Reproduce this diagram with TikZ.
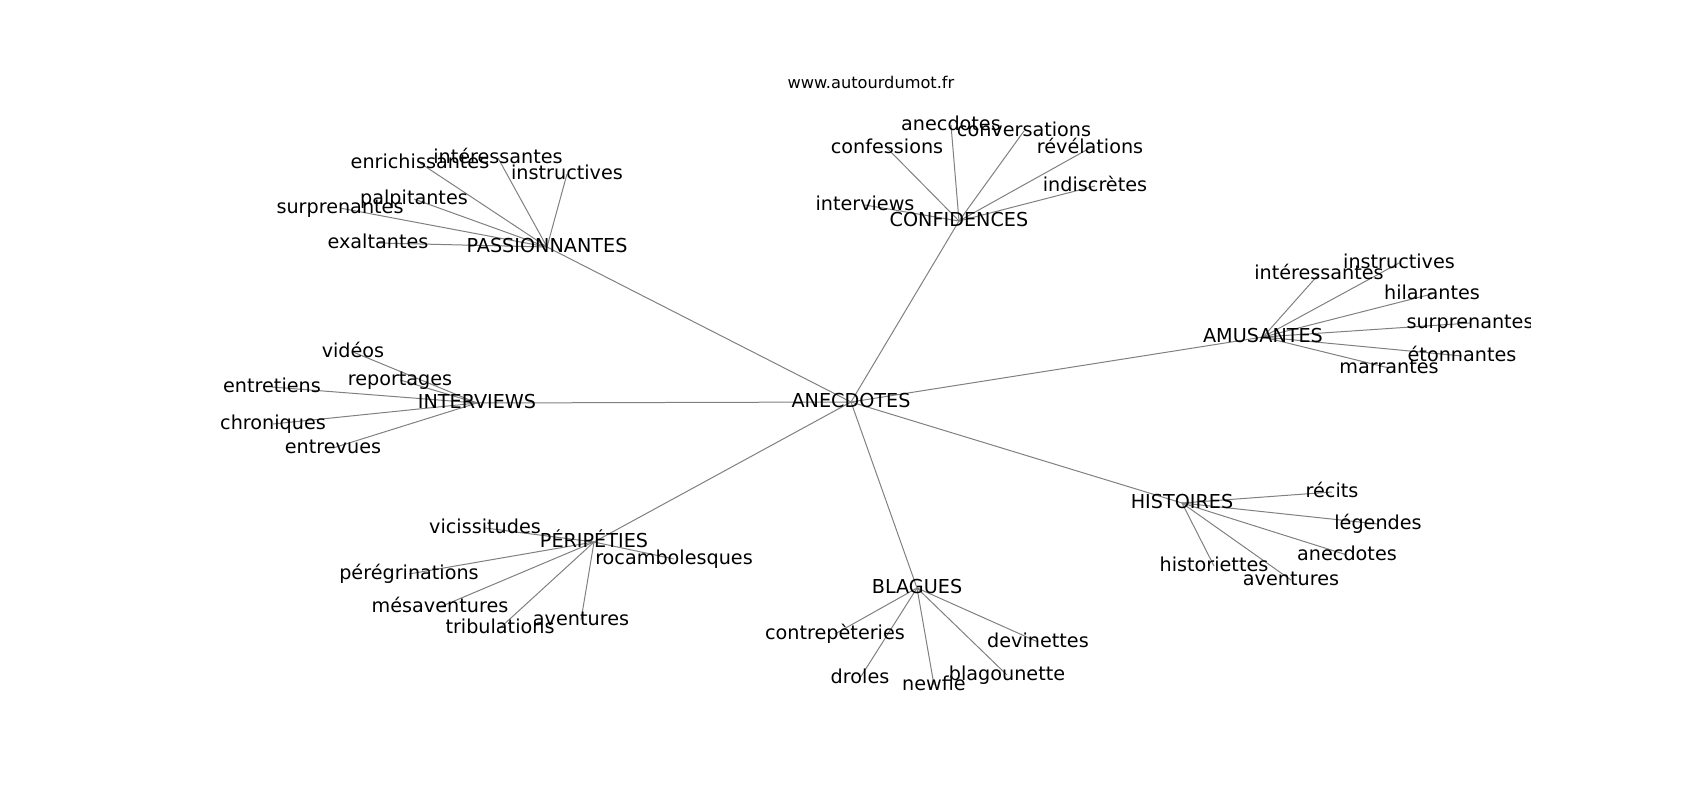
\documentclass[tikz,border=0pt]{standalone}
\usepackage{fontspec}
\setmainfont{DejaVu Sans}
\usetikzlibrary{backgrounds}
\tikzset{
  lbl/.style={font=\fontsize{19.2}{23}\selectfont, inner sep=0pt, text height=14.6pt, text depth=4.5pt, anchor=center},
  ttl/.style={font=\fontsize{16.2}{19}\selectfont, inner sep=0pt, text height=12.3pt, text depth=3.8pt, anchor=center},
  edge/.style={draw=black!50, line width=1pt}
}
\begin{document}
\begin{tikzpicture}[x=1pt,y=-1pt]
\useasboundingbox (0,0) rectangle (1700,800);
\node[ttl] (title) at (871,84) {www.autourdumot.fr};
\begin{scope}
\clip (212.5,96) rectangle (1530,712);
\node[lbl] (A) at (851,402) {ANECDOTES};
% PASSIONNANTES
\node[lbl] (P) at (547,247) {PASSIONNANTES};
\node[lbl] (p1) at (420,163) {enrichissantes};
\node[lbl] (p2) at (498,158) {intéressantes};
\node[lbl] (p3) at (567,174) {instructives};
\node[lbl] (p4) at (414,199) {palpitantes};
\node[lbl] (p5) at (340,208) {surprenantes};
\node[lbl] (p6) at (378,243) {exaltantes};
% CONFIDENCES
\node[lbl] (C) at (959,221) {CONFIDENCES};
\node[lbl] (c1) at (951,125) {anecdotes};
\node[lbl] (c2) at (1024,131) {conversations};
\node[lbl] (c3) at (887,148) {confessions};
\node[lbl] (c4) at (1090,148) {révélations};
\node[lbl] (c5) at (1095,186) {indiscrètes};
\node[lbl] (c6) at (865,205) {interviews};
% AMUSANTES
\node[lbl] (M) at (1263,337) {AMUSANTES};
\node[lbl] (m1) at (1319,274) {intéressantes};
\node[lbl] (m2) at (1399,263) {instructives};
\node[lbl] (m3) at (1432,294) {hilarantes};
\node[lbl] (m4) at (1470,323) {surprenantes};
\node[lbl] (m5) at (1462,356) {étonnantes};
\node[lbl] (m6) at (1389,368) {marrantes};
% INTERVIEWS
\node[lbl] (I) at (477,403) {INTERVIEWS};
\node[lbl] (i1) at (353,352) {vidéos};
\node[lbl] (i2) at (400,380) {reportages};
\node[lbl] (i3) at (272,387) {entretiens};
\node[lbl] (i4) at (273,424) {chroniques};
\node[lbl] (i5) at (333,448) {entrevues};
% PERIPETIES
\node[lbl] (R) at (594,542) {PÉRIPÉTIES};
\node[lbl] (r1) at (485,528) {vicissitudes};
\node[lbl] (r2) at (674,559) {rocambolesques};
\node[lbl] (r3) at (409,574) {pérégrinations};
\node[lbl] (r4) at (440,607) {mésaventures};
\node[lbl] (r5) at (500,628) {tribulations};
\node[lbl] (r6) at (581,620) {aventures};
% BLAGUES
\node[lbl] (B) at (917,588) {BLAGUES};
\node[lbl] (b1) at (835,634) {contrepèteries};
\node[lbl] (b2) at (1038,642) {devinettes};
\node[lbl] (b3) at (860,678) {droles};
\node[lbl] (b4) at (934,685) {newfie};
\node[lbl] (b5) at (1007,675) {blagounette};
% HISTOIRES
\node[lbl] (H) at (1182,503) {HISTOIRES};
\node[lbl] (h1) at (1332,492) {récits};
\node[lbl] (h2) at (1378,524) {légendes};
\node[lbl] (h3) at (1347,555) {anecdotes};
\node[lbl] (h4) at (1214,566) {historiettes};
\node[lbl] (h5) at (1291,580) {aventures};
\end{scope}
\begin{pgfonlayer}{background}
\foreach \n in {P,C,M,I,R,B,H} \draw[edge] (A.center) -- (\n.center);
\foreach \n in {p1,p2,p3,p4,p5,p6} \draw[edge] (P.center) -- (\n.center);
\foreach \n in {c1,c2,c3,c4,c5,c6} \draw[edge] (C.center) -- (\n.center);
\foreach \n in {m1,m2,m3,m4,m5,m6} \draw[edge] (M.center) -- (\n.center);
\foreach \n in {i1,i2,i3,i4,i5} \draw[edge] (I.center) -- (\n.center);
\foreach \n in {r1,r2,r3,r4,r5,r6} \draw[edge] (R.center) -- (\n.center);
\foreach \n in {b1,b2,b3,b4,b5} \draw[edge] (B.center) -- (\n.center);
\foreach \n in {h1,h2,h3,h4,h5} \draw[edge] (H.center) -- (\n.center);
\end{pgfonlayer}
\end{tikzpicture}
\end{document}
